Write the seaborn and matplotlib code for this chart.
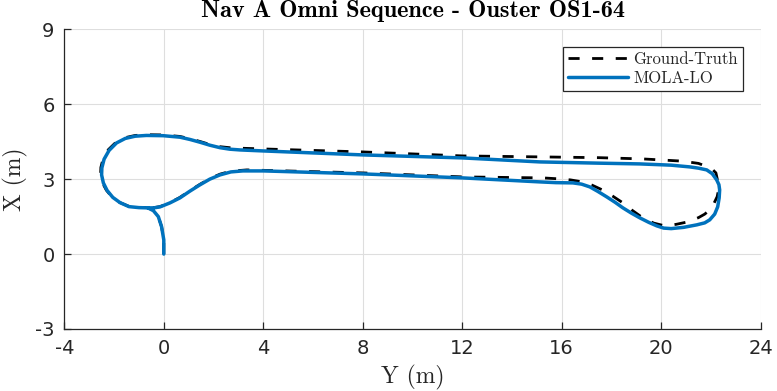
import matplotlib
matplotlib.use("Agg")
import matplotlib.pyplot as plt
import seaborn as sns

# ============================================================
# Data: trajectories (horizontal axis = Y, vertical axis = X), metres
# ============================================================
mola_y = [0.00, 0.00, -0.09, -0.22, -0.42, -0.64, -1.00, -1.40, -1.76, -2.05,
          -2.28, -2.43, -2.50, -2.49, -2.40, -2.20, -1.90, -1.55, -1.15, -0.70,
          -0.02, 0.65, 1.05, 1.45, 1.85, 2.26, 2.65, 3.06, 3.99, 8.01,
          12.02, 15.12, 17.50, 19.14, 20.40, 21.15, 21.50, 21.83, 22.05, 22.23,
          22.32, 22.35, 22.33, 22.27, 22.15, 21.95, 21.75, 21.43, 20.90, 20.40,
          20.10, 19.82, 19.50, 19.14, 18.80, 18.46, 18.15, 17.81, 17.45, 17.13,
          16.80, 16.45, 15.77, 15.12, 12.02, 8.01, 4.00, 3.18, 2.70, 2.26,
          1.85, 1.45, 1.05, 0.65, 0.25, -0.15, -0.40, -0.64]
mola_x = [0.00, 0.57, 1.10, 1.50, 1.74, 1.85, 1.86, 1.90, 2.06, 2.27,
          2.55, 2.85, 3.17, 3.45, 3.80, 4.15, 4.45, 4.63, 4.72, 4.75,
          4.74, 4.68, 4.59, 4.48, 4.36, 4.26, 4.20, 4.17, 4.13, 3.97,
          3.85, 3.69, 3.64, 3.61, 3.56, 3.49, 3.44, 3.37, 3.22, 2.97,
          2.78, 2.57, 2.25, 1.89, 1.60, 1.37, 1.25, 1.17, 1.07, 1.02,
          1.04, 1.13, 1.27, 1.45, 1.64, 1.85, 2.07, 2.29, 2.51, 2.69,
          2.80, 2.85, 2.86, 2.89, 3.05, 3.21, 3.33, 3.33, 3.29, 3.17,
          3.00, 2.77, 2.52, 2.25, 2.05, 1.89, 1.85, 1.85]

gt_y = [0.00, 0.00, -0.09, -0.22, -0.42, -0.64, -1.00, -1.40, -1.78, -2.08,
        -2.31, -2.47, -2.54, -2.53, -2.44, -2.23, -1.92, -1.56, -1.15, -0.70,
        -0.02, 0.65, 1.05, 1.45, 1.85, 2.26, 2.74, 4.00, 8.01, 12.02,
        15.24, 17.50, 19.26, 20.87, 21.50, 21.87, 22.08, 22.20, 22.29, 22.30,
        22.25, 22.12, 21.95, 21.75, 21.50, 21.07, 20.60, 20.14, 19.70, 19.26,
        18.85, 18.46, 18.05, 17.63, 17.22, 16.83, 16.35, 15.92, 15.24, 12.02,
        8.01, 3.34, 2.70, 2.26, 1.85, 1.45, 1.05, 0.65, 0.25, -0.15,
        -0.40, -0.64]
gt_x = [0.00, 0.57, 1.10, 1.50, 1.74, 1.86, 1.87, 1.91, 2.07, 2.28,
        2.56, 2.86, 3.18, 3.47, 3.82, 4.18, 4.48, 4.66, 4.75, 4.78,
        4.77, 4.71, 4.62, 4.51, 4.39, 4.30, 4.25, 4.21, 4.09, 3.93,
        3.89, 3.86, 3.81, 3.72, 3.63, 3.49, 3.37, 3.25, 2.84, 2.55,
        2.30, 2.03, 1.77, 1.60, 1.46, 1.29, 1.19, 1.13, 1.24, 1.45,
        1.74, 2.05, 2.32, 2.57, 2.76, 2.89, 2.97, 3.01, 3.05, 3.09,
        3.25, 3.37, 3.32, 3.20, 3.02, 2.79, 2.54, 2.27, 2.06, 1.90,
        1.86, 1.86]

x_ticks = [-4, 0, 4, 8, 12, 16, 20, 24]
y_ticks = [-3, 0, 3, 6, 9]

MATLAB_BLUE = (0.0, 0.447, 0.741)
AX_COLOR = "#262626"

# ============================================================
# Plot
# ============================================================
sns.set_theme(style="whitegrid")
plt.rcParams["font.family"] = ["DejaVu Sans"]

fig = plt.figure(figsize=(7.77, 3.91), dpi=100)
ax = fig.add_axes([64.3 / 777, 1 - 329 / 391, (760.7 - 64.3) / 777, (329 - 29.3) / 391])

sns.lineplot(x=gt_y, y=gt_x, sort=False, estimator=None, ax=ax,
             color="black", lw=2.0, linestyle=(0, (4, 4.5)), label="Ground-Truth")
sns.lineplot(x=mola_y, y=mola_x, sort=False, estimator=None, ax=ax,
             color=MATLAB_BLUE, lw=2.5, label="MOLA-LO")

ax.set_xlim(-4, 24)
ax.set_ylim(-3, 9)
ax.set_xticks(x_ticks)
ax.set_yticks(y_ticks)
ax.set_xticklabels([str(t) for t in x_ticks])
ax.set_yticklabels([str(t) for t in y_ticks])

ax.grid(True, color="#dedede", lw=0.8)
for side in ["top", "right"]:
    ax.spines[side].set_visible(False)
for side in ["left", "bottom"]:
    ax.spines[side].set_color(AX_COLOR)
    ax.spines[side].set_linewidth(0.9)
ax.tick_params(direction="in", length=5, width=0.9, color=AX_COLOR,
               labelcolor=AX_COLOR, labelsize=14, bottom=True, left=True, pad=7)

ax.set_title("Nav A Omni Sequence - Ouster OS1-64", fontfamily="cmb10",
             fontsize=17.5, pad=9, color="black")
ax.set_xlabel("Y (m)", fontfamily="cmr10", fontsize=17, color=AX_COLOR, labelpad=5)
ax.set_ylabel("X (m)", fontfamily="cmr10", fontsize=17, color=AX_COLOR, labelpad=5)

leg = ax.legend(loc="upper right", bbox_to_anchor=(743 / 777, 1 - 47 / 391),
                bbox_transform=fig.transFigure, borderaxespad=0,
                prop={"family": "cmr10", "size": 12}, handlelength=3.6,
                fancybox=False, framealpha=1, edgecolor=AX_COLOR,
                borderpad=0.3, labelspacing=0.22, handletextpad=0.3)
leg.get_frame().set_linewidth(0.9)

fig.savefig("out.png", dpi=100)
